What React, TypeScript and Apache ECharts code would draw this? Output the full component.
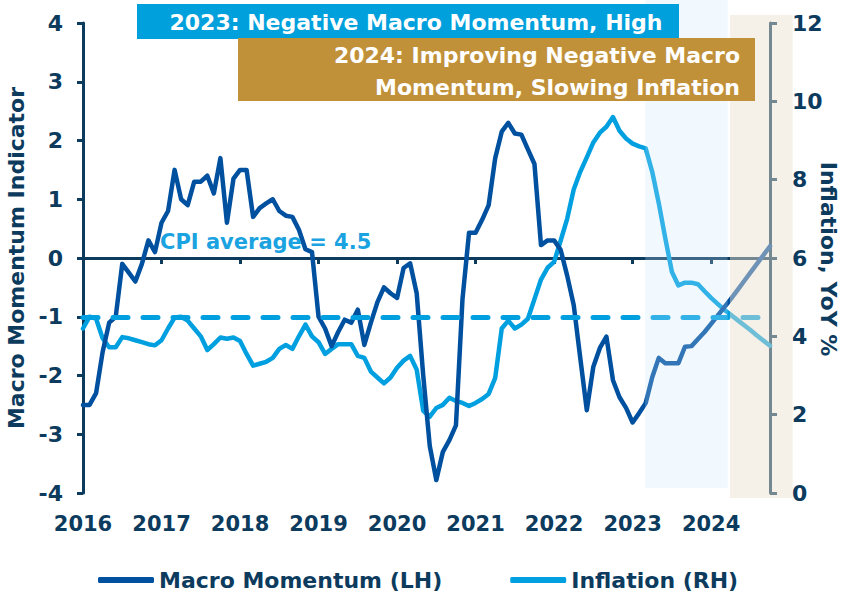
import React, { useEffect, useRef } from "react";
import * as echarts from "echarts";

const START_YEAR = 2016;

// Monthly values from Jan 2016 (index 0) to Oct 2024
const macroMomentum = [
  -2.5, -2.5, -2.3, -1.6, -1.1, -1.0, -0.1, -0.25, -0.4, -0.1, 0.3, 0.1,
  0.6, 0.8, 1.5, 1.0, 0.9, 1.3, 1.3, 1.4, 1.1, 1.7, 0.6, 1.35,
  1.5, 1.5, 0.7, 0.85, 0.93, 1.0, 0.8, 0.72, 0.7, 0.48, 0.15, 0.1,
  -1.0, -1.2, -1.5, -1.26, -1.05, -1.1, -0.88, -1.48, -1.1, -0.75, -0.5, -0.6,
  -0.68, -0.17, -0.09, -0.6, -2.0, -3.2, -3.78, -3.3, -3.1, -2.85, -0.7, 0.43,
  0.43, 0.65, 0.9, 1.7, 2.15, 2.3, 2.12, 2.1, 1.85, 1.6, 0.22, 0.3,
  0.3, 0.14, -0.3, -0.8, -1.7, -2.59, -1.85, -1.53, -1.34, -2.08, -2.37, -2.55,
  -2.8, -2.64, -2.47, -2.03, -1.7, -1.79, -1.79, -1.79, -1.51, -1.5, -1.38, -1.26,
  -1.12, -0.98, -0.84, -0.7, -0.55, -0.4, -0.25, -0.1, 0.05, 0.2,
];

const inflation = [
  4.2, 4.5, 4.45, 3.95, 3.72, 3.72, 3.98, 3.95, 3.9, 3.85, 3.8, 3.77,
  3.9, 4.2, 4.48, 4.5, 4.4, 4.2, 4.0, 3.65, 3.8, 3.97, 3.94, 3.97,
  3.88, 3.55, 3.25, 3.3, 3.35, 3.45, 3.68, 3.78, 3.68, 4.0, 4.3, 4.0,
  3.85, 3.55, 3.68, 3.8, 3.8, 3.8, 3.5, 3.45, 3.1, 2.95, 2.8, 2.95,
  3.2, 3.38, 3.5, 3.15, 2.1, 1.95, 2.17, 2.25, 2.43, 2.35, 2.3, 2.22,
  2.3, 2.4, 2.53, 2.94, 4.2, 4.4, 4.2, 4.3, 4.45, 4.95, 5.45, 5.75,
  5.9, 6.44, 7.0, 7.75, 8.2, 8.57, 8.95, 9.2, 9.35, 9.6, 9.25, 9.05,
  8.92, 8.85, 8.8, 8.2, 7.4, 6.5, 5.65, 5.3, 5.37, 5.37, 5.33, 5.15,
  4.98, 4.83, 4.68, 4.55, 4.42, 4.29, 4.16, 4.02, 3.89, 3.76,
];

const yearLabels = [2016, 2017, 2018, 2019, 2020, 2021, 2022, 2023, 2024];
const yearTicks = [2017, 2018, 2019, 2020, 2021, 2022, 2023, 2024];
const X_MIN = 2016;
const X_MAX = 2024.75;
const cpiAverage = 4.5;
const shade2023 = [2023.16, 2024.21];
const shade2024 = [2024.24, 2025.04];

const NAVY = "#0c3b5e";
const DARK_BLUE = "#0050a0";
const LIGHT_BLUE = "#00a0e0";
const FONT = '"DejaVu Sans", sans-serif';

export default function App() {
  const ref = useRef<HTMLDivElement>(null);

  useEffect(() => {
    if (!ref.current) return;
    const chart = echarts.init(ref.current, undefined, { renderer: "svg" });

    const toPoints = (arr: number[]) =>
      arr.map((v, i) => [START_YEAR + i / 12, v]);

    const option: any = {
      animation: false,
      grid: {
        left: 83,
        right: 72,
        top: 23,
        bottom: 99,
        containLabel: false,
        outerBoundsMode: "none",
      },
      legend: {
        data: ["Macro Momentum (LH)", "Inflation (RH)"],
        left: 93,
        top: 564,
        icon: "roundRect",
        itemWidth: 56,
        itemHeight: 6,
        itemGap: 68,
        textStyle: {
          color: NAVY,
          fontFamily: FONT,
          fontWeight: "bold",
          fontSize: 22,
        },
      },
      xAxis: [
        {
          type: "value",
          min: X_MIN,
          max: X_MAX,
          interval: 1,
          position: "bottom",
          axisLine: {
            show: true,
            onZero: true,
            onZeroAxisIndex: 0,
            lineStyle: { color: NAVY, width: 3 },
          },
          axisTick: {
            show: true,
            length: 6,
            lineStyle: { color: NAVY, width: 3 },
            customValues: yearTicks,
          },
          axisLabel: { show: false },
          splitLine: { show: false },
        },
        {
          type: "value",
          min: X_MIN,
          max: X_MAX,
          interval: 1,
          position: "bottom",
          axisLine: { show: false, onZero: false },
          axisTick: { show: false },
          axisLabel: {
            show: true,
            margin: 20,
            color: NAVY,
            fontFamily: FONT,
            fontWeight: "bold",
            fontSize: 21,
            customValues: yearLabels,
            formatter: (v: number) => String(Math.round(v)),
          },
          splitLine: { show: false },
        },
      ],
      yAxis: [
        {
          type: "value",
          min: -4,
          max: 4,
          interval: 1,
          position: "left",
          name: "Macro Momentum Indicator",
          nameLocation: "middle",
          nameGap: 55,
          nameTextStyle: {
            color: NAVY,
            fontFamily: FONT,
            fontWeight: "bold",
            fontSize: 22,
          },
          axisLine: { show: true, onZero: false, lineStyle: { color: NAVY, width: 3 } },
          axisTick: { show: true, length: 6, lineStyle: { color: NAVY, width: 3 } },
          axisLabel: {
            margin: 20,
            color: NAVY,
            fontFamily: FONT,
            fontWeight: "bold",
            fontSize: 22,
          },
          splitLine: { show: false },
        },
        {
          type: "value",
          min: 0,
          max: 12,
          interval: 2,
          position: "right",
          axisLine: { show: true, onZero: false, lineStyle: { color: NAVY, width: 3 } },
          axisTick: { show: true, length: 7, lineStyle: { color: NAVY, width: 3 } },
          axisLabel: {
            margin: 22,
            color: NAVY,
            fontFamily: FONT,
            fontWeight: "bold",
            fontSize: 22,
          },
          splitLine: { show: false },
        },
      ],
      series: [
        {
          name: "Inflation (RH)",
          type: "line",
          xAxisIndex: 0,
          yAxisIndex: 1,
          data: toPoints(inflation),
          showSymbol: false,
          color: LIGHT_BLUE,
          lineStyle: { width: 4.5, color: LIGHT_BLUE, cap: "round", join: "round" },
          z: 3,
          markLine: {
            silent: true,
            symbol: ["none", "none"],
            label: { show: false },
            lineStyle: { type: [15, 15], width: 5, color: LIGHT_BLUE, cap: "round" },
            data: [{ yAxis: cpiAverage }],
          },
        },
        {
          name: "Macro Momentum (LH)",
          type: "line",
          xAxisIndex: 0,
          yAxisIndex: 0,
          data: toPoints(macroMomentum),
          showSymbol: false,
          color: DARK_BLUE,
          lineStyle: { width: 4.5, color: DARK_BLUE, cap: "round", join: "round" },
          z: 4,
        },
      ],
    };

    chart.setOption(option);

    const px = (v: number) => chart.convertToPixel({ xAxisIndex: 0 }, v) as number;
    const b0 = px(shade2023[0]);
    const b1 = px(shade2023[1]);
    const g0 = px(shade2024[0]);
    const g1 = px(shade2024[1]);
    const midY = chart.convertToPixel({ yAxisIndex: 1 }, 6) as number;

    chart.setOption({
      graphic: [
        {
          type: "rect",
          silent: true,
          z: 50,
          shape: { x: b0, y: 0, width: b1 - b0, height: 488 },
          style: { fill: "rgba(200,230,250,0.25)" },
        },
        {
          type: "rect",
          silent: true,
          z: 50,
          shape: { x: g0, y: 15, width: g1 - g0, height: 483 },
          style: { fill: "rgba(234,223,206,0.47)" },
        },
        {
          type: "rect",
          silent: true,
          z: 60,
          shape: { x: 137, y: 4, width: 542, height: 35 },
          style: { fill: "#00a0dd" },
        },
        {
          type: "text",
          silent: true,
          z: 61,
          x: 416,
          y: 22,
          style: {
            text: "2023: Negative Macro Momentum, High",
            fill: "#ffffff",
            font: 'bold 22px "DejaVu Sans", sans-serif',
            align: "center",
            verticalAlign: "middle",
          },
        },
        {
          type: "rect",
          silent: true,
          z: 60,
          shape: { x: 238, y: 38, width: 517, height: 63 },
          style: { fill: "#c1913a" },
        },
        {
          type: "text",
          silent: true,
          z: 61,
          x: 740,
          y: 71,
          style: {
            text: "2024: Improving Negative Macro\nMomentum, Slowing Inflation",
            fill: "#ffffff",
            font: 'bold 22px "DejaVu Sans", sans-serif',
            align: "right",
            verticalAlign: "middle",
            lineHeight: 32,
          },
        },
        {
          type: "text",
          silent: true,
          z: 61,
          x: 160,
          y: 242,
          style: {
            text: "CPI average = 4.5",
            fill: "#1aa3e0",
            font: 'bold 21px "DejaVu Sans", sans-serif',
            align: "left",
            verticalAlign: "middle",
          },
        },
        {
          type: "text",
          silent: true,
          z: 61,
          x: 828,
          y: midY + 1,
          rotation: -Math.PI / 2,
          style: {
            text: "Inflation, YoY %",
            fill: NAVY,
            font: 'bold 22px "DejaVu Sans", sans-serif',
            align: "center",
            verticalAlign: "middle",
          },
        },
      ],
    });

    return () => chart.dispose();
  }, []);

  return (
    <div
      ref={ref}
      style={{ position: "fixed", left: 0, top: 0, width: 842, height: 592, background: "#ffffff" }}
    />
  );
}
